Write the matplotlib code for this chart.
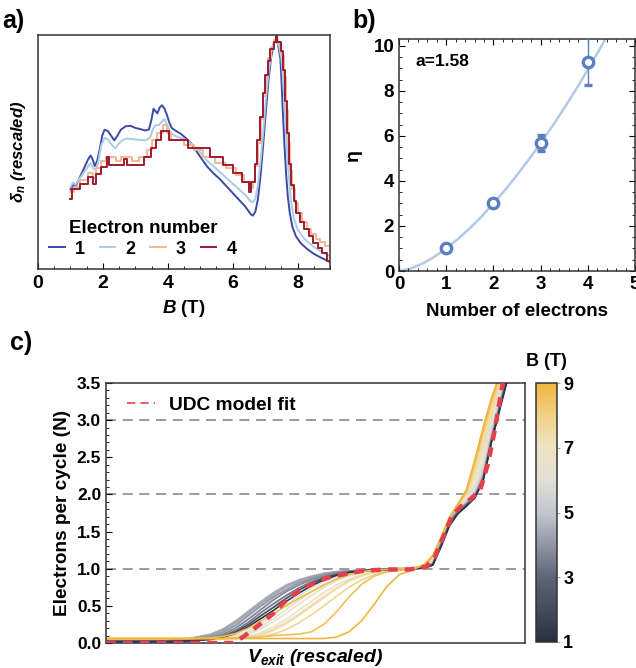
import numpy as np
import matplotlib
matplotlib.use("Agg")
import matplotlib.pyplot as plt
from matplotlib.colors import LinearSegmentedColormap, Normalize
from matplotlib.cm import ScalarMappable
from matplotlib.lines import Line2D
from matplotlib.ticker import MultipleLocator, FormatStrFormatter

plt.rcParams.update({
    "font.family": "Liberation Sans", "font.weight": "bold", "font.size": 12,
    "axes.labelweight": "bold", "axes.linewidth": 1.1, "axes.edgecolor": "#333333",
    "mathtext.fontset": "custom", "mathtext.it": "Liberation Sans:italic:bold",
    "mathtext.rm": "Liberation Sans:bold", "mathtext.bf": "Liberation Sans:bold",
    "xtick.direction": "in", "ytick.direction": "in",
})

# ---------------- panel a: delta_n vs B ----------------
a1_x = [1.00, 1.08, 1.15, 1.25, 1.35, 1.45, 1.55, 1.62, 1.68, 1.75, 1.82, 1.90, 1.98, 2.05, 2.15, 2.25,
        2.35, 2.45, 2.55, 2.70, 2.85, 3.00, 3.15, 3.30, 3.42, 3.50, 3.56, 3.62, 3.68, 3.75, 3.82, 3.90,
        3.97, 4.05, 4.12, 4.25, 4.40, 4.55, 4.70, 4.85, 5.00, 5.20, 5.40, 5.60, 5.80, 6.00, 6.20, 6.40,
        6.55, 6.62, 6.70, 6.78, 6.86, 6.94, 7.02, 7.10, 7.18, 7.26, 7.33, 7.40, 7.47, 7.50, 7.55, 7.60,
        7.65, 7.70, 7.76, 7.84, 7.95, 8.10, 8.30, 8.50, 8.70, 8.85, 9.00]
a1_y = [0.34, 0.36, 0.35, 0.38, 0.41, 0.44, 0.47, 0.485, 0.47, 0.44, 0.46, 0.51, 0.57, 0.595, 0.59, 0.57,
        0.55, 0.57, 0.595, 0.61, 0.612, 0.603, 0.598, 0.592, 0.596, 0.64, 0.685, 0.675, 0.665, 0.69, 0.70, 0.685,
        0.66, 0.625, 0.603, 0.59, 0.578, 0.56, 0.54, 0.51, 0.48, 0.44, 0.41, 0.385, 0.355, 0.325, 0.295, 0.265,
        0.235, 0.228, 0.245, 0.30, 0.40, 0.53, 0.67, 0.80, 0.90, 0.96, 0.98, 0.96, 0.90, 0.82, 0.66, 0.52,
        0.40, 0.31, 0.24, 0.18, 0.14, 0.11, 0.085, 0.065, 0.05, 0.04, 0.03]

a2_x = [1.00, 1.08, 1.15, 1.25, 1.35, 1.45, 1.55, 1.62, 1.70, 1.78, 1.86, 1.95, 2.05, 2.15, 2.28, 2.38,
        2.48, 2.60, 2.75, 2.90, 3.10, 3.30, 3.45, 3.55, 3.62, 3.72, 3.82, 3.90, 4.00, 4.08, 4.20, 4.40,
        4.60, 4.80, 5.00, 5.20, 5.40, 5.60, 5.80, 6.00, 6.20, 6.40, 6.55, 6.62, 6.70, 6.78, 6.86, 6.94,
        7.02, 7.10, 7.18, 7.26, 7.33, 7.42, 7.50, 7.56, 7.62, 7.68, 7.74, 7.80, 7.88, 8.00, 8.20, 8.40,
        8.60, 8.80, 9.00]
a2_y = [0.35, 0.37, 0.36, 0.38, 0.40, 0.42, 0.44, 0.452, 0.43, 0.425, 0.46, 0.53, 0.56, 0.555, 0.53, 0.515,
        0.535, 0.55, 0.558, 0.555, 0.552, 0.55, 0.56, 0.60, 0.615, 0.615, 0.63, 0.64, 0.61, 0.585, 0.57, 0.56,
        0.55, 0.525, 0.50, 0.465, 0.44, 0.415, 0.39, 0.365, 0.34, 0.315, 0.29, 0.285, 0.30, 0.36, 0.46, 0.58,
        0.72, 0.83, 0.92, 0.97, 0.985, 0.96, 0.90, 0.80, 0.65, 0.50, 0.38, 0.29, 0.22, 0.17, 0.13, 0.105,
        0.085, 0.07, 0.055]

a3_x = [1.00, 1.10, 1.30, 1.55, 1.68, 1.78, 1.95, 2.10, 2.40, 2.55, 2.90, 3.10, 3.35, 3.50, 3.68, 3.85,
        3.98, 4.10, 4.50, 4.80, 5.10, 5.45, 5.80, 6.10, 6.35, 6.55, 6.62, 6.70, 6.78, 6.86, 6.94, 7.02,
        7.10, 7.18, 7.26, 7.40, 7.50, 7.58, 7.64, 7.70, 7.76, 7.84, 7.92, 8.00, 8.14, 8.28, 8.42, 8.56,
        8.70, 8.84, 9.00]
a3_y = [0.33, 0.35, 0.38, 0.41, 0.39, 0.43, 0.46, 0.48, 0.46, 0.48, 0.46, 0.48, 0.51, 0.55, 0.58, 0.616,
        0.58, 0.55, 0.53, 0.51, 0.48, 0.455, 0.43, 0.40, 0.37, 0.345, 0.37, 0.44, 0.54, 0.64, 0.74, 0.83,
        0.90, 0.95, 0.98, 0.96, 0.91, 0.82, 0.68, 0.54, 0.42, 0.34, 0.28, 0.24, 0.20, 0.17, 0.15, 0.13,
        0.115, 0.10, 0.09]

a4_x = [1.00, 1.05, 1.29, 1.55, 1.68, 1.78, 1.95, 2.12, 2.20, 2.65, 2.75, 3.28, 3.48, 3.64, 3.80, 4.05,
        4.62, 5.30, 5.70, 6.00, 6.30, 6.50, 6.58, 6.68, 6.76, 6.84, 6.92, 7.00, 7.08, 7.16, 7.26, 7.33,
        7.38, 7.48, 7.56, 7.62, 7.68, 7.74, 7.80, 7.88, 7.96, 8.06, 8.20, 8.34, 8.48, 8.62, 8.76, 8.90,
        9.00]
a4_y = [0.30, 0.34, 0.363, 0.395, 0.365, 0.405, 0.436, 0.48, 0.444, 0.47, 0.444, 0.48, 0.515, 0.55, 0.59, 0.55,
        0.515, 0.48, 0.444, 0.41, 0.373, 0.33, 0.37, 0.45, 0.55, 0.65, 0.75, 0.83, 0.89, 0.94, 0.97, 1.00,
        0.97, 0.93, 0.85, 0.72, 0.58, 0.45, 0.36, 0.29, 0.24, 0.20, 0.17, 0.14, 0.11, 0.09, 0.07, 0.035,
        0.03]

a_labels = ["1", "2", "3", "4"]
a_colors = ["#3a4aa6", "#a9cbeb", "#f0b898", "#9e1b2e"]

# ---------------- panel b: eta vs number of electrons ----------------
b_n = [1, 2, 3, 4]
b_eta = [1.0, 3.0, 5.67, 9.27]
b_err_lo = [0.0, 0.0, 0.35, 1.02]
b_err_hi = [0.0, 0.0, 0.38, 1.25]
b_fit_x = [0, 0.25, 0.5, 0.75, 1, 1.25, 1.5, 1.75, 2, 2.25, 2.5, 2.75, 3, 3.25, 3.5, 3.75, 4, 4.25, 4.45]
b_fit_y = [0, 0.11, 0.33, 0.63, 1.0, 1.42, 1.90, 2.42, 3.0, 3.60, 4.26, 4.95, 5.67, 6.43, 7.23, 8.06,
           8.94, 9.84, 10.6]

# ---------------- panel c: N vs V_exit for many B ----------------
c_x = [0.00, 0.15, 0.20, 0.25, 0.28, 0.31, 0.34, 0.37, 0.40, 0.43, 0.46, 0.49, 0.52, 0.55, 0.58, 0.61,
       0.64, 0.67, 0.70, 0.73, 0.76, 0.78, 0.80, 0.82, 0.84, 0.86, 0.88, 0.90, 0.92, 0.94, 0.96]
# drawing order: pale fan first, then the grey / dark group, then the gold ones
c_B = [5.6, 6.0, 6.3, 6.6, 6.9, 7.2, 7.5, 7.8,
       5.0, 4.8, 4.5, 4.3, 4.0, 3.7, 3.4, 2.0, 1.2,
       8.6, 8.8, 9.0]
c_N = [
    [0.03, 0.03, 0.04, 0.06, 0.09, 0.14, 0.23, 0.36, 0.50, 0.63, 0.74, 0.83, 0.89, 0.93, 0.96, 0.98,
     0.99, 0.99, 1.00, 1.00, 1.02, 1.09, 1.38, 1.67, 1.81, 1.91, 2.05, 2.36, 2.87, 3.30, 3.70],
    [0.04, 0.04, 0.04, 0.05, 0.07, 0.10, 0.16, 0.26, 0.38, 0.51, 0.63, 0.74, 0.83, 0.89, 0.93, 0.96,
     0.98, 0.99, 0.99, 1.00, 1.02, 1.10, 1.39, 1.68, 1.82, 1.93, 2.10, 2.42, 2.92, 3.33, 3.72],
    [0.04, 0.04, 0.04, 0.05, 0.06, 0.09, 0.14, 0.22, 0.33, 0.45, 0.57, 0.69, 0.79, 0.86, 0.91, 0.95,
     0.97, 0.98, 0.99, 1.00, 1.03, 1.10, 1.39, 1.68, 1.83, 1.95, 2.13, 2.46, 2.95, 3.35, 3.74],
    [0.04, 0.04, 0.04, 0.05, 0.06, 0.08, 0.12, 0.19, 0.29, 0.40, 0.52, 0.64, 0.75, 0.84, 0.90, 0.94,
     0.97, 0.98, 0.99, 1.00, 1.03, 1.11, 1.40, 1.69, 1.84, 1.96, 2.16, 2.50, 2.98, 3.37, 3.75],
    [0.04, 0.04, 0.04, 0.05, 0.06, 0.07, 0.09, 0.14, 0.22, 0.32, 0.44, 0.56, 0.68, 0.78, 0.86, 0.92,
     0.96, 0.98, 0.99, 1.00, 1.03, 1.12, 1.40, 1.69, 1.85, 1.98, 2.22, 2.58, 3.03, 3.42, 3.78],
    [0.05, 0.05, 0.05, 0.05, 0.06, 0.07, 0.08, 0.12, 0.19, 0.28, 0.39, 0.51, 0.63, 0.74, 0.84, 0.91,
     0.95, 0.97, 0.99, 1.00, 1.04, 1.13, 1.41, 1.69, 1.85, 1.99, 2.26, 2.63, 3.06, 3.45, 3.79],
    [0.05, 0.05, 0.05, 0.05, 0.06, 0.07, 0.08, 0.11, 0.17, 0.26, 0.37, 0.49, 0.61, 0.73, 0.83, 0.90,
     0.95, 0.97, 0.99, 1.00, 1.04, 1.14, 1.41, 1.69, 1.86, 2.00, 2.30, 2.68, 3.10, 3.47, 3.80],
    [0.05, 0.05, 0.05, 0.05, 0.06, 0.06, 0.07, 0.09, 0.12, 0.18, 0.27, 0.38, 0.50, 0.63, 0.75, 0.85,
     0.92, 0.96, 0.98, 1.00, 1.05, 1.16, 1.42, 1.69, 1.86, 2.02, 2.36, 2.77, 3.18, 3.52, 3.85],
    [0.03, 0.03, 0.05, 0.09, 0.14, 0.22, 0.33, 0.46, 0.59, 0.70, 0.79, 0.86, 0.91, 0.94, 0.96, 0.98,
     0.99, 0.99, 1.00, 1.00, 1.02, 1.08, 1.37, 1.67, 1.80, 1.89, 2.01, 2.30, 2.82, 3.27, 3.68],
    [0.02, 0.03, 0.06, 0.11, 0.17, 0.27, 0.39, 0.52, 0.64, 0.75, 0.83, 0.89, 0.93, 0.96, 0.97, 0.98,
     0.99, 0.99, 1.00, 1.00, 1.01, 1.07, 1.36, 1.66, 1.79, 1.88, 1.99, 2.25, 2.78, 3.24, 3.66],
    [0.02, 0.03, 0.06, 0.12, 0.19, 0.30, 0.43, 0.56, 0.68, 0.78, 0.85, 0.90, 0.94, 0.96, 0.97, 0.98,
     0.99, 0.99, 1.00, 1.00, 1.01, 1.06, 1.35, 1.65, 1.78, 1.88, 1.98, 2.24, 2.76, 3.22, 3.64],
    [0.02, 0.03, 0.06, 0.11, 0.18, 0.28, 0.41, 0.54, 0.66, 0.76, 0.84, 0.89, 0.93, 0.96, 0.97, 0.98,
     0.99, 0.99, 1.00, 1.00, 1.01, 1.06, 1.34, 1.64, 1.78, 1.87, 1.98, 2.23, 2.75, 3.20, 3.63],
    [0.02, 0.03, 0.05, 0.09, 0.15, 0.24, 0.37, 0.50, 0.62, 0.72, 0.81, 0.87, 0.92, 0.95, 0.97, 0.98,
     0.99, 0.99, 1.00, 1.00, 1.01, 1.06, 1.34, 1.63, 1.77, 1.87, 1.97, 2.22, 2.74, 3.20, 3.62],
    [0.02, 0.02, 0.04, 0.07, 0.12, 0.20, 0.32, 0.45, 0.58, 0.69, 0.78, 0.85, 0.90, 0.94, 0.96, 0.98,
     0.99, 0.99, 1.00, 1.00, 1.01, 1.06, 1.33, 1.62, 1.76, 1.86, 1.97, 2.21, 2.73, 3.18, 3.62],
    [0.02, 0.02, 0.03, 0.06, 0.10, 0.17, 0.28, 0.41, 0.53, 0.64, 0.74, 0.82, 0.88, 0.93, 0.96, 0.97,
     0.98, 0.99, 0.99, 1.00, 1.01, 1.06, 1.32, 1.61, 1.76, 1.86, 1.96, 2.20, 2.72, 3.18, 3.60],
    [0.02, 0.02, 0.03, 0.05, 0.09, 0.15, 0.25, 0.37, 0.48, 0.60, 0.71, 0.80, 0.87, 0.92, 0.95, 0.97,
     0.98, 0.99, 0.99, 1.00, 1.01, 1.05, 1.31, 1.60, 1.75, 1.85, 1.96, 2.20, 2.72, 3.17, 3.60],
    [0.02, 0.02, 0.03, 0.05, 0.08, 0.13, 0.22, 0.33, 0.44, 0.56, 0.67, 0.77, 0.85, 0.91, 0.95, 0.97,
     0.98, 0.99, 0.99, 1.00, 1.01, 1.05, 1.30, 1.58, 1.74, 1.84, 1.95, 2.18, 2.70, 3.15, 3.58],
    [0.06, 0.06, 0.06, 0.06, 0.06, 0.07, 0.07, 0.08, 0.10, 0.11, 0.12, 0.15, 0.25, 0.42, 0.62, 0.79,
     0.90, 0.96, 0.98, 1.00, 1.05, 1.17, 1.42, 1.69, 1.87, 2.04, 2.42, 2.85, 3.25, 3.58, 3.90],
    [0.06, 0.06, 0.06, 0.07, 0.09, 0.13, 0.20, 0.30, 0.40, 0.50, 0.60, 0.69, 0.78, 0.86, 0.92, 0.96,
     0.98, 0.99, 1.00, 1.00, 1.05, 1.17, 1.42, 1.69, 1.87, 2.05, 2.44, 2.88, 3.28, 3.60, 3.92],
    [0.06, 0.06, 0.06, 0.06, 0.06, 0.06, 0.06, 0.06, 0.06, 0.06, 0.06, 0.06, 0.06, 0.08, 0.15, 0.30,
     0.52, 0.76, 0.92, 0.98, 1.06, 1.18, 1.42, 1.68, 1.87, 2.06, 2.46, 2.90, 3.30, 3.62, 3.95],
]
fit_x = [0.0, 0.304, 0.328, 0.36, 0.40, 0.431, 0.463, 0.503, 0.535, 0.558, 0.614, 0.67, 0.726, 0.765,
         0.785, 0.805, 0.825, 0.845, 0.869, 0.893, 0.912, 0.928, 0.94, 0.947]
fit_y = [0.0, 0.0, 0.085, 0.22, 0.40, 0.58, 0.713, 0.825, 0.89, 0.915, 0.973, 0.99, 0.99, 1.03,
         1.16, 1.43, 1.70, 1.83, 1.93, 2.06, 2.42, 2.87, 3.27, 3.5]
cb_ticks = [1, 3, 5, 7, 9]

B_CMAP = LinearSegmentedColormap.from_list("bmap", [
    (0.0, "#2a3044"), (0.25, "#5d6579"), (0.5, "#c3c6ce"), (0.63, "#e2dfd6"),
    (0.76, "#efe3c3"), (0.88, "#f1cf84"), (1.0, "#efb73c")])

W, H = 636, 668
fig = plt.figure(figsize=(W / 100, H / 100), dpi=100)


def box(x0, y0, x1, y1):
    return [x0 / W, 1 - y1 / H, (x1 - x0) / W, (y1 - y0) / H]


# ---- a ----
axa = fig.add_axes(box(38, 35, 330, 269))
for xs, ys, lab, col, step in [(a1_x, a1_y, "1", a_colors[0], False), (a2_x, a2_y, "2", a_colors[1], False),
                               (a3_x, a3_y, "3", a_colors[2], True), (a4_x, a4_y, "4", a_colors[3], True)]:
    axa.plot(xs, ys, color=col, lw=1.4, label=lab, drawstyle="steps-post" if step else "default")
axa.set_xlim(0, 9); axa.set_ylim(0, 1.0)
axa.xaxis.set_major_locator(MultipleLocator(2)); axa.xaxis.set_minor_locator(MultipleLocator(0.5))
axa.tick_params(axis="x", which="major", length=4, labelsize=14, pad=4)
axa.tick_params(axis="x", which="minor", length=2.5)
axa.set_yticks([])
axa.set_xlabel(r"$B$ (T)", fontsize=13.5, labelpad=5)
axa.set_ylabel(r"$\delta_n$ (rescaled)", fontsize=12, fontstyle="italic", labelpad=7)
leg = axa.legend(title="Electron number", ncol=4, loc="lower left", bbox_to_anchor=(-0.005, -0.005),
                 frameon=False, handlelength=0.85, handletextpad=0.55, columnspacing=0.85,
                 prop={"weight": "bold", "size": 13}, title_fontproperties={"weight": "bold", "size": 13.5},
                 borderpad=0.2, labelspacing=0.2)
fig.text(2 / W, 1 - 21 / H, "a)", fontsize=18, fontweight="bold", va="center")

# ---- b ----
axb = fig.add_axes(box(399, 39, 635, 271))
axb.plot(b_fit_x, b_fit_y, color="#b3c9e7", lw=1.8, zorder=1)
axb.errorbar(b_n, b_eta, yerr=[b_err_lo, b_err_hi], fmt="o", ms=7.5, mfc="white", mec="#5a80bf",
             mew=2.4, ecolor="#5a80bf", elinewidth=1.0, capsize=3, zorder=3)
axb.set_xlim(0, 5); axb.set_ylim(0, 10.3)
axb.xaxis.set_major_locator(MultipleLocator(1)); axb.xaxis.set_minor_locator(MultipleLocator(0.2))
axb.yaxis.set_major_locator(MultipleLocator(2)); axb.yaxis.set_minor_locator(MultipleLocator(0.5))
axb.tick_params(which="both", top=True, right=True, labelsize=13.5)
axb.tick_params(which="major", length=4); axb.tick_params(which="minor", length=2.5)
axb.set_xlabel("Number of electrons", fontsize=13.5, labelpad=7)
axb.set_ylabel("η", fontsize=14, labelpad=8)
axb.text(0.35, 9.3, "a=1.58", fontsize=12.5, fontweight="bold", va="center")
fig.text(352 / W, 1 - 21 / H, "b)", fontsize=18, fontweight="bold", va="center")

# ---- c ----
axc = fig.add_axes(box(106, 383, 525, 643))
norm = Normalize(1, 9)
for level in [1, 2, 3]:
    axc.axhline(level, color="#8a8a8a", lw=1.2, ls=(0, (6, 4)), zorder=1)
for B, ys in zip(c_B, c_N):
    axc.plot(c_x, ys, color=B_CMAP(norm(B)), lw=1.2, zorder=2)
axc.plot(fit_x, fit_y, color="#e3404e", lw=3.2, ls=(0, (2.2, 1.6)), zorder=4)
axc.set_xlim(0, 1); axc.set_ylim(0, 3.5)
axc.set_xticks([])
axc.yaxis.set_major_locator(MultipleLocator(0.5)); axc.yaxis.set_minor_locator(MultipleLocator(0.1))
axc.yaxis.set_major_formatter(FormatStrFormatter("%.1f"))
axc.tick_params(axis="y", which="major", length=4, labelsize=12.5)
axc.tick_params(axis="y", which="minor", length=2)
axc.set_ylabel("Electrons per cycle (N)", fontsize=13.7, labelpad=4)
axc.set_xlabel(r"$V_{exit}$ (rescaled)", fontsize=14, fontstyle="italic", labelpad=3)
axc.legend(handles=[Line2D([], [], color="#e8404e", lw=1.2, ls=(0, (5, 3)))], labels=["UDC model fit"],
           loc="upper left", bbox_to_anchor=(0.01, 1.015), frameon=False, handlelength=1.45,
           handletextpad=0.7, prop={"weight": "bold", "size": 13.8})
fig.text(10 / W, 1 - 343 / H, "c)", fontsize=18, fontweight="bold", va="center")

cax = fig.add_axes(box(536, 383, 557, 642))
cb = fig.colorbar(ScalarMappable(norm=norm, cmap=B_CMAP), cax=cax, ticks=cb_ticks)
cb.outline.set_linewidth(1.1)
cax.tick_params(length=2.5, width=0.8, color="#aaaaaa", direction="out", labelsize=13, pad=2)
cax.set_title("B (T)", fontsize=13, fontweight="bold", pad=12)

fig.savefig("out.png", dpi=100, facecolor="white")
